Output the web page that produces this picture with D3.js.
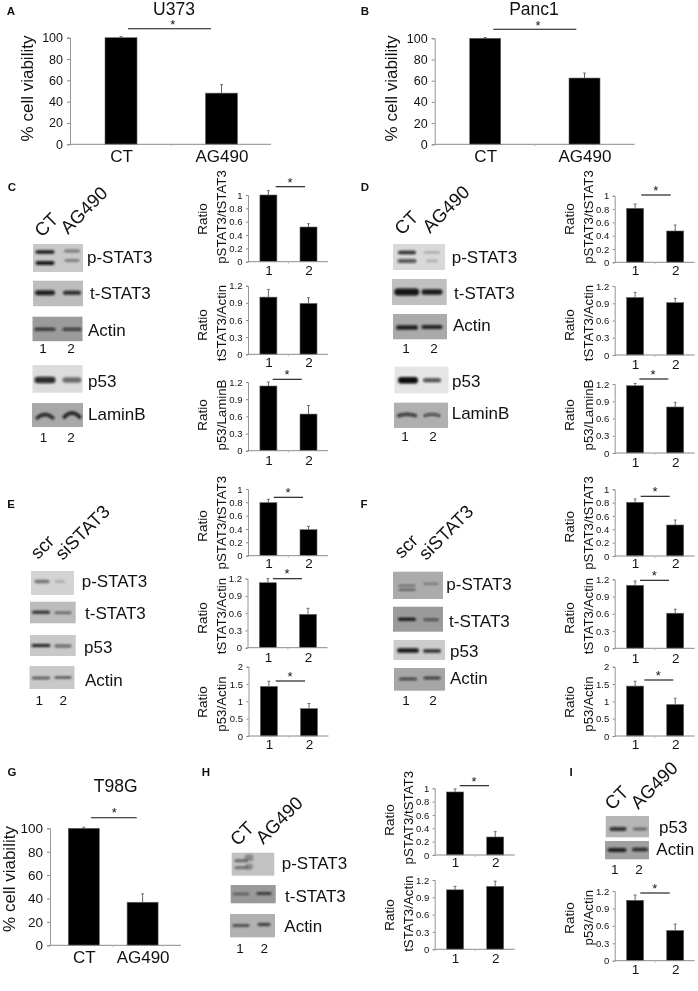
<!DOCTYPE html>
<html><head><meta charset="utf-8">
<script src="https://cdnjs.cloudflare.com/ajax/libs/d3/7.8.5/d3.min.js"></script>
<style>
html,body{margin:0;padding:0;background:#fff}
svg{display:block;filter:blur(.3px)}
text{font-family:"Liberation Sans",Arial,sans-serif;fill:#111}
</style></head><body><div id="chart"></div>
<script>
// ---------- DATA ----------
const treatCats = ["CT", "AG490"];
const laneCats = ["1", "2"];
const ticksViability = [0, 20, 40, 60, 80, 100];
const ticksUnit = [0, 0.2, 0.4, 0.6, 0.8, 1];
const ticksThree = [0, 0.3, 0.6, 0.9, 1.2];
const ticksHalf = [0, 0.5, 1, 1.5, 2];

const viabilityU373 = [100, 48],   viabilityU373Err = [1, 8];
const viabilityPanc1 = [100, 62.5], viabilityPanc1Err = [0.7, 4.7];
const viabilityT98G = [100, 36.8], viabilityT98GErr = [1, 7.2];

const cPStat = [1.0, 0.52],  cPStatErr = [0.065, 0.05];
const cTStat = [1.0, 0.89],  cTStatErr = [0.135, 0.1];
const cP53 = [1.13, 0.64],   cP53Err = [0.07, 0.15];

const dPStat = [0.81, 0.47], dPStatErr = [0.065, 0.09];
const dTStat = [1.0, 0.91],  dTStatErr = [0.09, 0.075];
const dP53 = [1.17, 0.8],    dP53Err = [0.04, 0.08];

const ePStat = [0.795, 0.39], ePStatErr = [0.05, 0.05];
const eTStat = [1.13, 0.58],  eTStatErr = [0.07, 0.105];
const eP53 = [1.43, 0.79],    eP53Err = [0.15, 0.15];

const fPStat = [0.805, 0.465], fPStatErr = [0.05, 0.075];
const fTStat = [1.095, 0.61],  fTStatErr = [0.075, 0.07];
const fP53 = [1.44, 0.91],     fP53Err = [0.14, 0.18];

const hPStat = [0.945, 0.27], hPStatErr = [0.045, 0.08];
const hTStat = [1.03, 1.09],  hTStatErr = [0.06, 0.09];
const iP53 = [1.04, 0.52],    iP53Err = [0.09, 0.11];

const labelPStat = ["Ratio", "pSTAT3/tSTAT3"];
const labelTStat = ["Ratio", "tSTAT3/Actin"];
const labelP53Lamin = ["Ratio", "p53/LaminB"];
const labelP53Actin = ["Ratio", "p53/Actin"];
const labelViability = "% cell viability";

// ---------- DRAWING ----------
const W = 698, H = 991;
const svg = d3.select("#chart").append("svg").attr("width", W).attr("height", H).attr("viewBox", [0, 0, W, H]);
const defs = svg.append("defs");
defs.append("filter").attr("id", "bandBlur").attr("filterUnits", "userSpaceOnUse")
  .attr("x", 0).attr("y", 0).attr("width", W).attr("height", H)
  .append("feGaussianBlur").attr("stdDeviation", 1);
const AX = "#8a8a8a";

function txt(g, s, x, y, size, opt = {}) {
  return g.append("text").attr("x", x).attr("y", y).attr("font-size", size)
    .attr("text-anchor", opt.anchor || "start").attr("font-weight", opt.bold ? 700 : 400).text(s);
}
function rotText(g, s, x, y, size, angle, anchor) {
  return g.append("text").attr("transform", `translate(${x},${y}) rotate(${angle})`)
    .attr("font-size", size).attr("text-anchor", anchor).text(s);
}

function barChart(cfg) {
  const g = svg.append("g");
  const L = cfg.layout;
  const y = d3.scaleLinear().domain([0, d3.max(cfg.ticks)]).range([L.y0, L.y1]);
  const x = d3.scalePoint().domain(cfg.cats).range([L.c1, L.c2]);
  const idx = cfg.cats.map((c, i) => i);

  g.selectAll("rect.bar").data(idx).join("rect").attr("class", "bar")
    .attr("x", i => x(cfg.cats[i]) - L.bw / 2).attr("width", L.bw)
    .attr("y", i => y(cfg.values[i])).attr("height", i => y(0) - y(cfg.values[i]))
    .attr("fill", "#000").attr("stroke", "#666").attr("stroke-width", 0.6);
  g.selectAll("line.err").data(idx).join("line").attr("class", "err")
    .attr("x1", i => x(cfg.cats[i])).attr("x2", i => x(cfg.cats[i]))
    .attr("y1", i => y(cfg.values[i])).attr("y2", i => y(cfg.values[i] + cfg.errors[i]))
    .attr("stroke", "#555").attr("stroke-width", 0.9);
  g.selectAll("line.cap").data(idx).join("line").attr("class", "cap")
    .attr("x1", i => x(cfg.cats[i]) - 1.5).attr("x2", i => x(cfg.cats[i]) + 1.5)
    .attr("y1", i => y(cfg.values[i] + cfg.errors[i])).attr("y2", i => y(cfg.values[i] + cfg.errors[i]))
    .attr("stroke", "#555").attr("stroke-width", 0.8);

  const yAxis = g.append("g").attr("transform", `translate(${L.x0},0)`)
    .call(d3.axisLeft(y).tickValues(cfg.ticks).tickFormat(String).tickSize(L.tick).tickPadding(L.pad));
  yAxis.select(".domain").attr("stroke", AX).attr("stroke-width", 0.9);
  yAxis.selectAll("line").attr("stroke", AX);
  yAxis.selectAll("text").attr("font-size", L.tickFont).attr("fill", "#222")
    .style("font-family", '"Liberation Sans",Arial,sans-serif');

  g.append("line").attr("x1", L.x0).attr("x2", L.x1).attr("y1", y(0)).attr("y2", y(0))
    .attr("stroke", AX).attr("stroke-width", 1);
  g.append("line").attr("x1", (L.c1 + L.c2) / 2).attr("x2", (L.c1 + L.c2) / 2).attr("y1", y(0)).attr("y2", y(0) + 2)
    .attr("stroke", "#bbb");

  const xAxis = g.append("g").attr("transform", `translate(0,${L.y0})`)
    .call(d3.axisBottom(x).tickSize(0));
  xAxis.select(".domain").remove();
  xAxis.selectAll("text").attr("font-size", L.catFont).attr("dy", 0).attr("y", L.catBase - L.y0).attr("fill", "#111")
    .style("font-family", '"Liberation Sans",Arial,sans-serif');

  if (cfg.sig) {
    const s = cfg.sig;
    g.append("line").attr("x1", s.x1).attr("x2", s.x2).attr("y1", s.y).attr("y2", s.y).attr("stroke", "#111").attr("stroke-width", 1.1);
    txt(g, "*", s.sx, s.sy + 6.5, 13, { anchor: "middle" });
  }
  cfg.yLabel.forEach(t => rotText(g, t.s, t.x, t.cy, t.size, -90, "middle"));
  if (cfg.title) txt(g, cfg.title.s, cfg.title.x, cfg.title.y, 17.5, { anchor: "middle" });
}

// layouts
const big = (x0, x1, c1, c2, bw, y0, y1, catBase, tickFont) => ({ x0, x1, c1, c2, bw, y0, y1, catBase, tick: 3, pad: 4, tickFont, catFont: 17 });
const small = (x0, y0, y1, catBase) => ({ x0, x1: x0 + 80, c1: x0 + 20.4, c2: x0 + 60.5, bw: 17, y0, y1, catBase, tick: 2, pad: 3.5, tickFont: 9.5, catFont: 13.5 });
const ylab = (x0, lines, cy1, cy2) => [
  { s: lines[0], x: x0 - 41, cy: cy1, size: 13.5 },
  { s: lines[1], x: x0 - 22, cy: cy2, size: 13.3 }];

// A, B, G
barChart({ cats: treatCats, values: viabilityU373, errors: viabilityU373Err, ticks: ticksViability,
  layout: big(70, 271, 121, 221.5, 32, 144.3, 37.7, 161.7, 12.5),
  yLabel: [{ s: labelViability, x: 33, cy: 88.5, size: 17 }], title: { s: "U373", x: 174, y: 15 },
  sig: { x1: 128, x2: 211, y: 28.7, sx: 172.7, sy: 22.7 } });
barChart({ cats: treatCats, values: viabilityPanc1, errors: viabilityPanc1Err, ticks: ticksViability,
  layout: big(434.7, 634.7, 485.2, 584.5, 31, 144.3, 38.3, 161.7, 12.5),
  yLabel: [{ s: labelViability, x: 396.7, cy: 88.5, size: 17 }], title: { s: "Panc1", x: 534, y: 15 },
  sig: { x1: 493.3, x2: 576.3, y: 29.3, sx: 538, sy: 23.3 } });
barChart({ cats: treatCats, values: viabilityT98G, errors: viabilityT98GErr, ticks: ticksViability,
  layout: big(50, 181, 83.8, 142.6, 31, 945.3, 828.3, 963, 13.5),
  yLabel: [{ s: labelViability, x: 15, cy: 879, size: 17 }], title: { s: "T98G", x: 115.7, y: 791.7 },
  sig: { x1: 91, x2: 136.7, y: 817.7, sx: 114.3, sy: 810.7 } });

// C
barChart({ cats: laneCats, values: cPStat, errors: cPStatErr, ticks: ticksUnit, layout: small(248, 261.7, 195, 275),
  yLabel: ylab(248, labelPStat, 219, 217), sig: { x1: 275.7, x2: 305, y: 186.7, sx: 290, sy: 180 } });
barChart({ cats: laneCats, values: cTStat, errors: cTStatErr, ticks: ticksThree, layout: small(248, 354.3, 285.7, 367.5),
  yLabel: ylab(248, labelTStat, 325, 323) });
barChart({ cats: laneCats, values: cP53, errors: cP53Err, ticks: ticksThree, layout: small(248, 450.7, 382, 465),
  yLabel: ylab(248, labelP53Lamin, 415, 415), sig: { x1: 272.7, x2: 301.7, y: 379.3, sx: 287, sy: 372 } });
// D
barChart({ cats: laneCats, values: dPStat, errors: dPStatErr, ticks: ticksUnit, layout: small(614.7, 262.3, 195.7, 275.5),
  yLabel: ylab(614.7, labelPStat, 219, 217), sig: { x1: 641.3, x2: 670.7, y: 195, sx: 655.7, sy: 188 } });
barChart({ cats: laneCats, values: dTStat, errors: dTStatErr, ticks: ticksThree, layout: small(614.7, 355, 286, 368.5),
  yLabel: ylab(614.7, labelTStat, 325, 323) });
barChart({ cats: laneCats, values: dP53, errors: dP53Err, ticks: ticksThree, layout: small(614.7, 453, 384, 467),
  yLabel: ylab(614.7, labelP53Lamin, 415, 415), sig: { x1: 639.3, x2: 668.3, y: 379, sx: 653, sy: 372 } });
// E
barChart({ cats: laneCats, values: ePStat, errors: ePStatErr, ticks: ticksUnit, layout: small(248, 555.7, 489, 568),
  yLabel: ylab(248, labelPStat, 526, 522.7), sig: { x1: 273.7, x2: 303, y: 497.3, sx: 288, sy: 490 } });
barChart({ cats: laneCats, values: eTStat, errors: eTStatErr, ticks: ticksThree, layout: small(247.5, 647.7, 578.7, 661.7),
  yLabel: ylab(248, labelTStat, 618, 616), sig: { x1: 273, x2: 302, y: 578.7, sx: 287, sy: 571.7 } });
barChart({ cats: laneCats, values: eP53, errors: eP53Err, ticks: ticksHalf, layout: small(248.5, 736, 666.7, 749.3),
  yLabel: ylab(248, labelP53Actin, 702, 704), sig: { x1: 275.7, x2: 305, y: 681, sx: 290, sy: 674 } });
// F
barChart({ cats: laneCats, values: fPStat, errors: fPStatErr, ticks: ticksUnit, layout: small(614.7, 556, 489.3, 568),
  yLabel: ylab(614.7, labelPStat, 526.7, 523), sig: { x1: 640.7, x2: 669.7, y: 496.3, sx: 655, sy: 489.3 } });
barChart({ cats: laneCats, values: fTStat, errors: fTStatErr, ticks: ticksThree, layout: small(614.7, 648.3, 579.3, 663),
  yLabel: ylab(614.7, labelTStat, 618, 616), sig: { x1: 640, x2: 669, y: 580.3, sx: 654.3, sy: 573.3 } });
barChart({ cats: laneCats, values: fP53, errors: fP53Err, ticks: ticksHalf, layout: small(614.7, 736, 666.7, 749.3),
  yLabel: ylab(614.7, labelP53Actin, 702, 704), sig: { x1: 644.3, x2: 673.3, y: 680, sx: 658.3, sy: 673.3 } });
// H, I
barChart({ cats: laneCats, values: hPStat, errors: hPStatErr, ticks: ticksUnit, layout: small(434.7, 855, 788.3, 867.3),
  yLabel: ylab(434.7, labelPStat, 820, 817.7), sig: { x1: 459.7, x2: 489, y: 785.7, sx: 474, sy: 779 } });
barChart({ cats: laneCats, values: hTStat, errors: hTStatErr, ticks: ticksThree, layout: small(434.7, 949.3, 880, 962.7),
  yLabel: ylab(434.7, labelTStat, 915, 913.7) });
barChart({ cats: laneCats, values: iP53, errors: iP53Err, ticks: ticksThree, layout: small(614.7, 960.7, 891, 974),
  yLabel: ylab(614.7, labelP53Actin, 918, 917.7), sig: { x1: 640.3, x2: 669.7, y: 893, sx: 654.7, sy: 886 } });

// ---------- WESTERN BLOTS ----------
let clipId = 0;
function blot(b) {
  const lane = d3.scalePoint().domain(laneCats).range(b.lanes);
  const g = svg.append("g");
  const id = "clip" + (clipId++);
  defs.append("clipPath").attr("id", id).append("rect").attr("x", b.x).attr("y", b.y).attr("width", b.w).attr("height", b.h);
  g.append("rect").attr("x", b.x).attr("y", b.y).attr("width", b.w).attr("height", b.h).attr("fill", b.bg);
  const inner = g.append("g").attr("clip-path", `url(#${id})`).append("g").attr("filter", "url(#bandBlur)");
  b.bands.forEach(([l, dy, w, h, op, arch]) => {
    const cx = lane(laneCats[l]), cy = b.y + dy, p = d3.path();
    const half = Math.max(w - h, 2) / 2;
    p.moveTo(cx - half, cy);
    p.quadraticCurveTo(cx, cy - (arch || 0) * 2, cx + half, cy);
    inner.append("path").attr("d", p.toString()).attr("fill", "none").attr("stroke", "#0c0c0c")
      .attr("stroke-width", h).attr("stroke-linecap", "round").attr("opacity", op);
  });
  txt(svg, b.label, b.lx, b.ly, 17);
}
function laneLabels(xs, y) { laneCats.forEach((c, i) => txt(svg, c, xs[i], y, 13.5, { anchor: "middle" })); }

// C
blot({ label: "p-STAT3", lx: 87, ly: 263, x: 33, y: 244, w: 50, h: 28, bg: "#c9c9c9", lanes: [45, 72],
  bands: [[0, 8, 19, 3.4, .95], [0, 19, 19, 3.8, .95], [1, 7, 16, 3, .4], [1, 16.5, 15, 3, .38]] });
blot({ label: "t-STAT3", lx: 90, ly: 299, x: 33, y: 280.7, w: 50, h: 25.5, bg: "#bdbdbd", lanes: [45, 72],
  bands: [[0, 12, 20, 5, .9], [1, 12, 18, 4, .85]] });
blot({ label: "Actin", lx: 88, ly: 336, x: 32.5, y: 316.7, w: 50, h: 24.5, bg: "#9b9b9b", lanes: [45, 72],
  bands: [[0, 12.5, 21, 3, .8], [1, 12.5, 19, 3, .72]] });
laneLabels([43, 71], 353);
blot({ label: "p53", lx: 88, ly: 387, x: 32.5, y: 365, w: 50, h: 27.7, bg: "#dcdcdc", lanes: [45, 72],
  bands: [[0, 15, 21, 6.5, .85], [1, 15, 19, 5.5, .5]] });
blot({ label: "LaminB", lx: 88, ly: 420, x: 32, y: 403, w: 51, h: 24, bg: "#a8a8a8", lanes: [45, 72],
  bands: [[0, 15, 19, 3.2, .85, 3.5], [1, 14, 19, 3.6, .9, 4]] });
laneLabels([43.5, 71], 441.7);
// D
blot({ label: "p-STAT3", lx: 451.7, ly: 262.7, x: 393, y: 244, w: 52, h: 26, bg: "#d9d9d9", lanes: [407, 432],
  bands: [[0, 8.5, 18, 3.6, .85], [0, 17, 19, 3.8, .65], [1, 8.5, 16, 2.2, .28], [1, 17, 12, 3, .18]] });
blot({ label: "t-STAT3", lx: 454, ly: 299, x: 392, y: 279, w: 54.7, h: 26, bg: "#c0c0c0", lanes: [406.7, 432],
  bands: [[0, 13, 25, 7, .95], [1, 13, 21, 5.5, .92]] });
blot({ label: "Actin", lx: 453, ly: 331, x: 393, y: 314, w: 54, h: 25.3, bg: "#aaaaaa", lanes: [407, 432],
  bands: [[0, 13.5, 22, 4.5, .9], [1, 13, 21, 4, .88]] });
laneLabels([406, 434], 352.7);
blot({ label: "p53", lx: 452, ly: 386.7, x: 394.5, y: 366.7, w: 54, h: 26.6, bg: "#e5e5e5", lanes: [408, 432],
  bands: [[0, 13.5, 20, 6.5, 1], [1, 13.5, 18, 4, .7]] });
blot({ label: "LaminB", lx: 451.7, ly: 419, x: 394, y: 402.7, w: 54, h: 25.3, bg: "#b0b0b0", lanes: [407, 432],
  bands: [[0, 13, 20, 3.4, .75, 1.5], [1, 13, 17, 3, .62, 1.5]] });
laneLabels([405, 433], 441);
// E
blot({ label: "p-STAT3", lx: 81.7, ly: 586.7, x: 31, y: 571, w: 43, h: 24, bg: "#d3d3d3", lanes: [42, 60],
  bands: [[0, 10.5, 15, 3.5, .45], [1, 10.5, 10, 3, .18]] });
blot({ label: "t-STAT3", lx: 85, ly: 619.3, x: 30, y: 601.7, w: 45.7, h: 21.6, bg: "#bcbcbc", lanes: [41, 63],
  bands: [[0, 10.5, 18, 3, .85], [1, 11, 17, 2.5, .48]] });
blot({ label: "p53", lx: 84, ly: 652.7, x: 30, y: 635, w: 45.7, h: 21, bg: "#c8c8c8", lanes: [41, 63],
  bands: [[0, 10.5, 19, 3.2, .9], [1, 11, 17, 2.8, .55]] });
blot({ label: "Actin", lx: 85, ly: 685.7, x: 29.5, y: 666, w: 45, h: 23, bg: "#c8c8c8", lanes: [41, 63],
  bands: [[0, 12, 18, 2.4, .65], [1, 11.5, 17, 2.4, .6]] });
laneLabels([39.3, 63.3], 705);
// F
blot({ label: "p-STAT3", lx: 446.3, ly: 590, x: 393, y: 571.7, w: 50, h: 27.3, bg: "#ababab", lanes: [407, 431],
  bands: [[0, 14, 17, 1.8, .45], [0, 18, 17, 2, .5], [1, 12, 15, 2, .35]] });
blot({ label: "t-STAT3", lx: 449, ly: 626.7, x: 393, y: 606.7, w: 50, h: 25, bg: "#9b9b9b", lanes: [407, 431],
  bands: [[0, 12.5, 18, 3, 1], [1, 13, 15, 2.4, .6]] });
blot({ label: "p53", lx: 450, ly: 657.3, x: 393.5, y: 640, w: 51.5, h: 20, bg: "#cccccc", lanes: [408, 432],
  bands: [[0, 10.5, 22, 4.5, .95], [1, 11, 18, 3.5, .85]] });
blot({ label: "Actin", lx: 450, ly: 684, x: 394, y: 668, w: 51, h: 22.7, bg: "#a6a6a6", lanes: [408, 432],
  bands: [[0, 11, 18, 2.4, .75], [1, 10, 17, 2.6, .8]] });
laneLabels([406, 433], 705);
// H
blot({ label: "p-STAT3", lx: 281.7, ly: 869.3, x: 231.7, y: 852.7, w: 42.6, h: 23, bg: "#c2c2c2", lanes: [241, 249],
  bands: [[0, 8, 13, 2.5, .6], [0, 15, 13, 2.5, .55], [1, 5, 5, 7, .3], [1, 14, 6, 6, .3]] });
blot({ label: "t-STAT3", lx: 285, ly: 901.7, x: 230.7, y: 885, w: 45, h: 18.3, bg: "#999999", lanes: [241, 264],
  bands: [[0, 9, 16, 2, .55], [1, 8.5, 15, 2.6, .75]] });
blot({ label: "Actin", lx: 284.3, ly: 931.7, x: 230, y: 914, w: 45, h: 23.3, bg: "#b1b1b1", lanes: [241, 264],
  bands: [[0, 11.5, 17, 2.4, .65], [1, 10.5, 13, 2.8, .75]] });
laneLabels([240, 264.3], 953.3);
// I
blot({ label: "p53", lx: 659, ly: 833.3, x: 605.7, y: 816, w: 43.3, h: 21.3, bg: "#b6b6b6", lanes: [618, 640],
  bands: [[0, 13, 17, 4, .8], [1, 13, 14, 2.6, .5]] });
blot({ label: "Actin", lx: 656.3, ly: 855, x: 605, y: 841, w: 44, h: 18.3, bg: "#a0a0a0", lanes: [617, 640],
  bands: [[0, 9, 19, 4, .9], [1, 8.5, 16, 3.6, .85]] });
laneLabels([614.7, 639], 874);

// Rotated lane headers
[[42, 238, "CT"], [68, 235, "AG490"], [402, 236, "CT"], [430, 234, "AG490"],
 [237.7, 846.7, "CT"], [263.3, 845, "AG490"], [612.3, 811, "CT"], [638.3, 810, "AG490"],
 [38, 560, "scr"], [62.7, 561, "siSTAT3"], [401.7, 559.3, "scr"], [426.3, 561, "siSTAT3"]]
 .forEach(([x, y, s]) => rotText(svg, s, x, y, 18.5, -45, "start"));

// Panel letters
[["A", 11, 11], ["B", 365, 11], ["C", 12, 187], ["D", 365, 187], ["E", 11, 504], ["F", 364, 504], ["G", 12, 772], ["H", 206, 772], ["I", 571, 772]]
 .forEach(([s, x, y]) => txt(svg, s, x, y + 4, 11.5, { anchor: "middle", bold: true }));
</script></body></html>
